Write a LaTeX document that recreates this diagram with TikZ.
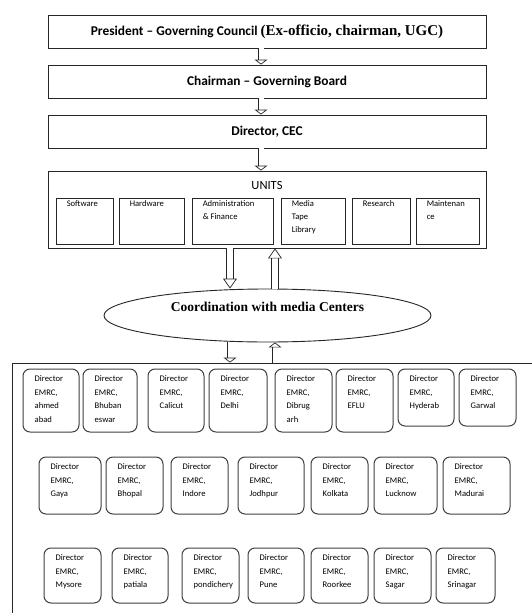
\documentclass[tikz,border=0pt]{standalone}
\usepackage{fontspec}
\setmainfont{Carlito}
\newfontfamily\timesfont{Liberation Serif}
\usepackage{tikz}
\usetikzlibrary{shapes.geometric,arrows.meta}

\begin{document}
\begin{tikzpicture}[x=1pt,y=-1pt,
	topbox/.style={draw=black!85,line width=0.9pt,minimum width=438pt,minimum height=33pt,inner sep=0pt,font=\fontsize{13.4}{16}\selectfont\bfseries},
	unitbox/.style={draw=black!85,line width=0.9pt,minimum height=46pt,inner sep=0pt},
	unittext/.style={anchor=north west,align=left,inner sep=0pt,xshift=11pt,yshift=-3pt,font=\fontsize{8.6}{13}\selectfont},
	emrcbox/.style={draw=black!75,line width=1pt,rounded corners=7pt,inner sep=0pt},
	emrctext/.style={anchor=north west,align=left,inner sep=0pt,xshift=12pt,yshift=-7pt,font=\fontsize{8.6}{13.5}\selectfont},
	coordell/.style={draw=black!85,line width=0.9pt,ellipse,minimum width=327pt,minimum height=53pt,inner sep=0pt,font=\timesfont\bfseries\fontsize{13.5}{15}\selectfont,text height=9pt,text depth=18pt},
	dblarrow/.style={draw=black!85,double,double distance=5pt,line width=0.7pt,-{Triangle[open,width=13pt,length=5pt]}},
	bigarrow/.style={draw=black!85,double,double distance=6.5pt,line width=0.7pt,-{Triangle[open,width=14pt,length=10pt]}}]
	\useasboundingbox[fill=white] (0,0) rectangle (531,613);
	\coordinate (mid) at (261,0);
	\coordinate (dn) at (230,0);
	\coordinate (up) at (275,0);
	%
	\node[topbox] (pres) at (267,31.5) {President -- Governing Council {\timesfont\fontsize{15}{16}\selectfont(Ex-officio, chairman, UGC)}};
	\node[topbox] (board) at (267,81.5) {Chairman -- Governing Board};
	\node[topbox] (dir) at (267,131.5) {Director, CEC};
	%
	\node[draw=black!85,line width=0.9pt,minimum width=438pt,minimum height=77pt,inner sep=0pt] (units) at (267,209.5) {};
	\node[font=\fontsize{12.5}{14}\selectfont] (unitstitle) at (267,185) {UNITS};
	\node[unitbox,minimum width=57pt,label={[unittext]north west:Software}] (soft) at (84.5,221) {};
	\node[unitbox,minimum width=65pt,label={[unittext]north west:Hardware}] (hard) at (151.5,221) {};
	\node[unitbox,minimum width=81pt,label={[unittext]north west:Administration\\\& Finance}] (admin) at (232.5,221) {};
	\node[unitbox,minimum width=64pt,label={[unittext]north west:Media\\Tape\\Library}] (media) at (313,221) {};
	\node[unitbox,minimum width=58pt,label={[unittext]north west:Research}] (res) at (381,221) {};
	\node[unitbox,minimum width=63pt,label={[unittext]north west:Maintenan\\ce}] (maint) at (447.5,221) {};
	%
	\node[coordell] (coord) at (267.5,315.5) {Coordination with media Centers};
	%
	\node[draw=black!85,line width=0.9pt,minimum width=533pt,minimum height=277pt,inner sep=0pt] (emrc) at (278.5,501.5) {};
	% first row
	\node[emrcbox,minimum width=56pt,minimum height=63pt,label={[emrctext]north west:Director\\EMRC,\\ahmed\\abad}] (ahm) at (51,400.5) {};
	\node[emrcbox,minimum width=54pt,minimum height=63pt,label={[emrctext]north west:Director\\EMRC,\\Bhuban\\eswar}] (bhu) at (110,400.5) {};
	\node[emrcbox,minimum width=56pt,minimum height=63pt,label={[emrctext]north west:Director\\EMRC,\\Calicut}] (cal) at (176,400.5) {};
	\node[emrcbox,minimum width=58pt,minimum height=63pt,label={[emrctext]north west:Director\\EMRC,\\Delhi}] (del) at (238,400.5) {};
	\node[emrcbox,minimum width=57pt,minimum height=63pt,label={[emrctext]north west:Director\\EMRC,\\Dibrug\\arh}] (dib) at (303.5,400.5) {};
	\node[emrcbox,minimum width=57pt,minimum height=63pt,label={[emrctext]north west:Director\\EMRC,\\EFLU}] (eflu) at (364.5,400.5) {};
	\node[emrcbox,minimum width=56pt,minimum height=57pt,label={[emrctext]north west:Director\\EMRC,\\Hyderab}] (hyd) at (426,397.5) {};
	\node[emrcbox,minimum width=57pt,minimum height=57pt,label={[emrctext]north west:Director\\EMRC,\\Garwal}] (gar) at (487.5,397.5) {};
	% second row
	\node[emrcbox,minimum width=62pt,minimum height=57pt,label={[emrctext]north west:Director\\EMRC,\\Gaya}] (gaya) at (70,485.5) {};
	\node[emrcbox,minimum width=57pt,minimum height=57pt,label={[emrctext]north west:Director\\EMRC,\\Bhopal}] (bho) at (134.5,485.5) {};
	\node[emrcbox,minimum width=57pt,minimum height=57pt,label={[emrctext]north west:Director\\EMRC,\\Indore}] (ind) at (199.5,485.5) {};
	\node[emrcbox,minimum width=66pt,minimum height=57pt,label={[emrctext]north west:Director\\EMRC,\\Jodhpur}] (jod) at (271,485.5) {};
	\node[emrcbox,minimum width=57pt,minimum height=57pt,label={[emrctext]north west:Director\\EMRC,\\Kolkata}] (kol) at (339.5,485.5) {};
	\node[emrcbox,minimum width=63pt,minimum height=57pt,label={[emrctext]north west:Director\\EMRC,\\Lucknow}] (luc) at (405.5,485.5) {};
	\node[emrcbox,minimum width=67pt,minimum height=57pt,label={[emrctext]north west:Director\\EMRC,\\Madurai}] (mad) at (476.5,485.5) {};
	% third row
	\node[emrcbox,minimum width=57pt,minimum height=55pt,label={[emrctext]north west:Director\\EMRC,\\Mysore}] (mys) at (72.5,575.5) {};
	\node[emrcbox,minimum width=56pt,minimum height=55pt,label={[emrctext]north west:Director\\EMRC,\\patiala}] (pat) at (140,575.5) {};
	\node[emrcbox,minimum width=57pt,minimum height=55pt,label={[emrctext]north west:Director\\EMRC,\\pondichery}] (pon) at (210.5,575.5) {};
	\node[emrcbox,minimum width=56pt,minimum height=55pt,label={[emrctext]north west:Director\\EMRC,\\Pune}] (pun) at (276,575.5) {};
	\node[emrcbox,minimum width=57pt,minimum height=55pt,label={[emrctext]north west:Director\\EMRC,\\Roorkee}] (roo) at (339.5,575.5) {};
	\node[emrcbox,minimum width=57pt,minimum height=55pt,label={[emrctext]north west:Director\\EMRC,\\Sagar}] (sag) at (402.5,575.5) {};
	\node[emrcbox,minimum width=59pt,minimum height=55pt,label={[emrctext]north west:Director\\EMRC,\\Srinagar}] (sri) at (465.5,575.5) {};
	%
	\path
	(pres.south -| mid) edge[dblarrow] (board.north -| mid)
	(board.south -| mid) edge[dblarrow] (dir.north -| mid)
	(dir.south -| mid) edge[dblarrow] (units.north -| mid)
	(units.south -| dn) edge[bigarrow] (coord.north -| dn)
	(coord.north -| up) edge[bigarrow] (units.south -| up)
	(coord.south -| dn) edge[dblarrow] (emrc.north -| dn)
	(emrc.north -| up) edge[dblarrow] (coord.south -| up);
\end{tikzpicture}
\end{document}
